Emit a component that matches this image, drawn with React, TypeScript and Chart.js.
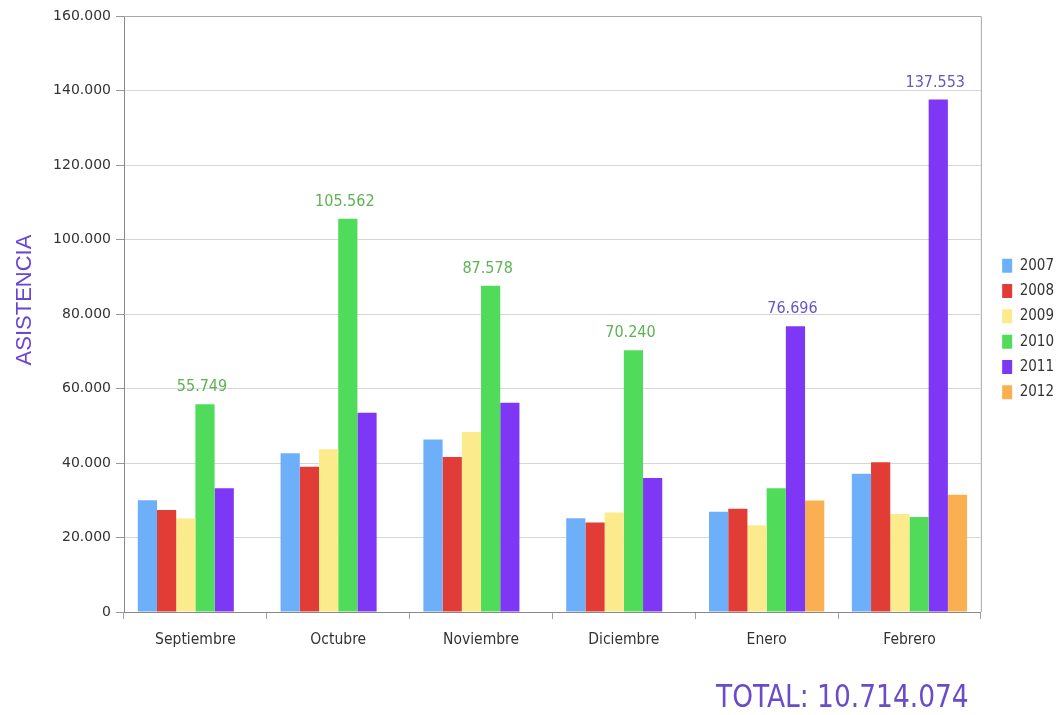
import { useEffect, useRef } from 'react';
import { Chart, registerables } from 'chart.js';

Chart.register(...registerables);

const categories = ['Septiembre', 'Octubre', 'Noviembre', 'Diciembre', 'Enero', 'Febrero'];
const years = ['2007', '2008', '2009', '2010', '2011', '2012'];
const s2007 = [30000, 42600, 46300, 25200, 26900, 37100];
const s2008 = [27400, 39000, 41600, 24000, 27700, 40200];
const s2009 = [25100, 43700, 48300, 26700, 23300, 26300];
const s2010 = [55749, 105562, 87578, 70240, 33200, 25500];
const s2011 = [33200, 53500, 56200, 36000, 76696, 137553];
const s2012 = [null, null, null, null, 29900, 31500];
const seriesValues = [s2007, s2008, s2009, s2010, s2011, s2012];
const seriesColors = ['#6eaffa', '#e23c37', '#fceb8c', '#50dc5a', '#7d37f5', '#fab050'];
// which series gets a value label in each category
const labelSeries = [3, 3, 3, 3, 4, 4];
const labelColors = ['#5cb352', '#5cb352', '#5cb352', '#5cb352', '#6b55c4', '#6b55c4'];
const yAxisTitle = 'ASISTENCIA';
const totalText = 'TOTAL: 10.714.074';

const fmt = (n: number) => String(Math.round(n)).replace(/\B(?=(\d{3})+(?!\d))/g, '.');

const COND = '"DejaVu Sans Condensed", "DejaVu Sans", sans-serif';

const extrasPlugin = {
  id: 'extras',
  afterDatasetsDraw(chart: any) {
    const { ctx, chartArea } = chart;
    ctx.save();
    // frame (top + right)
    ctx.strokeStyle = '#a8a8a8';
    ctx.lineWidth = 1;
    ctx.beginPath();
    ctx.moveTo(chartArea.left, chartArea.top + 0.5);
    ctx.lineTo(chartArea.right + 0.5, chartArea.top + 0.5);
    ctx.lineTo(chartArea.right + 0.5, chartArea.bottom);
    ctx.stroke();
    // value labels
    ctx.font = `16px ${COND}`;
    ctx.textAlign = 'center';
    ctx.textBaseline = 'alphabetic';
    labelSeries.forEach((ds, i) => {
      const meta = chart.getDatasetMeta(ds);
      const bar = meta.data[i];
      if (!bar) return;
      const v = seriesValues[ds][i] as number;
      ctx.fillStyle = labelColors[i];
      ctx.fillText(fmt(v), bar.x - 3, bar.y - 13);
    });
    // y axis title
    ctx.save();
    ctx.translate(31, 300);
    ctx.rotate(-Math.PI / 2);
    ctx.font = '22px "Liberation Sans", Arial, sans-serif';
    ctx.fillStyle = '#6a44d4';
    ctx.textAlign = 'center';
    ctx.textBaseline = 'alphabetic';
    ctx.fillText(yAxisTitle, 0, 0);
    ctx.restore();
    // total
    ctx.save();
    ctx.translate(716, 707);
    ctx.scale(0.92, 1);
    ctx.font = `32px ${COND}`;
    ctx.fillStyle = '#6a4cc8';
    ctx.textAlign = 'left';
    ctx.fillText(totalText, 0, 0);
    ctx.restore();
    ctx.restore();
  },
};

export default function App() {
  const ref = useRef<HTMLCanvasElement>(null);
  useEffect(() => {
    if (!ref.current) return;
    const chart = new Chart(ref.current, {
      type: 'bar',
      data: {
        labels: categories,
        datasets: years.map((y, k) => ({
          label: y,
          data: seriesValues[k] as any,
          xAxisID: 'x',
          yAxisID: 'y',
          backgroundColor: seriesColors[k],
          borderWidth: 0,
          categoryPercentage: 0.807,
          barPercentage: 1,
        })),
      },
      options: {
        responsive: false,
        animation: false,
        layout: { padding: { left: 0, right: 0, top: 2, bottom: 59 } },
        plugins: {
          title: { display: false },
          tooltip: { enabled: false },
          legend: {
            position: 'right',
            align: 'center',
            labels: {
              boxWidth: 10,
              boxHeight: 14,
              padding: 10.3,
              color: '#333',
              font: { family: COND, size: 15 },
            },
          },
        },
        scales: {
          x: {
            type: 'category',
            position: 'bottom',
            afterFit: (s: any) => { s.height = 44; },
            grid: {
              display: true,
              drawOnChartArea: false,
              drawTicks: true,
              tickLength: 7,
              offset: true,
              tickColor: '#a0a0a0',
            },
            border: { color: '#888', width: 1 },
            ticks: {
              color: '#333',
              padding: 12,
              font: { family: COND, size: 15.5 },
            },
          },
          y: {
            type: 'linear',
            position: 'left',
            min: 0,
            max: 160000,
            afterFit: (s: any) => { s.width = 124; },
            grid: { color: '#d6d6d6', tickColor: '#999', tickLength: 8 },
            border: { color: '#888', width: 1 },
            ticks: {
              stepSize: 20000,
              padding: 5,
              color: '#333',
              font: { family: '"DejaVu Sans", sans-serif', size: 14 },
              callback: (v: any) => fmt(Number(v)),
            },
          },
          xT: {
            type: 'linear',
            position: 'top',
            axis: 'x',
            display: true,
            afterFit: (s: any) => { s.height = 14; },
            grid: { display: false },
            ticks: { display: false },
            border: { display: false },
          },
          yR: {
            type: 'linear',
            position: 'right',
            axis: 'y',
            display: true,
            afterFit: (s: any) => { s.width = 11; },
            grid: { display: false },
            ticks: { display: false },
            border: { display: false },
          },
        },
      } as any,
      plugins: [extrasPlugin],
    });
    return () => chart.destroy();
  }, []);
  return (
    <div style={{ position: 'fixed', left: 0, top: 0, width: 1064, height: 715, background: '#fff' }}>
      <canvas ref={ref} width={1064} height={715} />
    </div>
  );
}
